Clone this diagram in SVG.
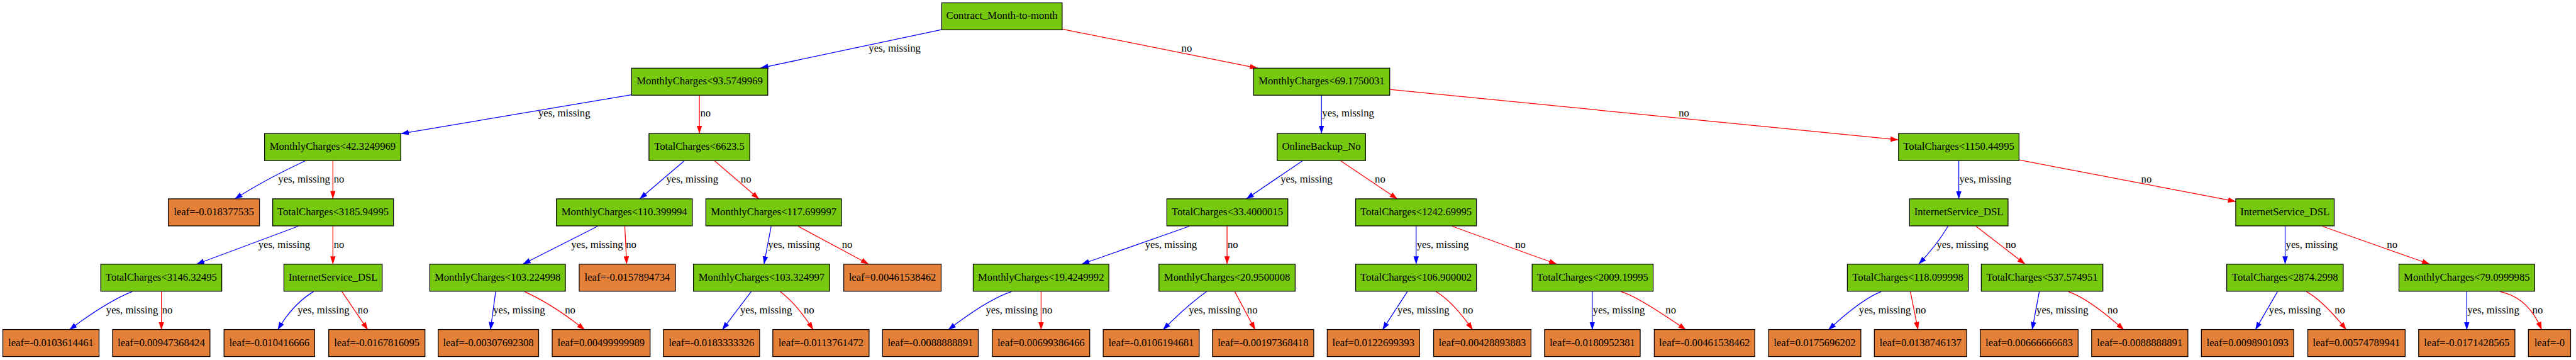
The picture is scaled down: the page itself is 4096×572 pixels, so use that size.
<svg xmlns="http://www.w3.org/2000/svg" width="4096" height="572" viewBox="0 0 4096 572">
<style>
.c{fill:#77C90F;stroke:#000;stroke-width:1.4}
.l{fill:#E48038;stroke:#000;stroke-width:1.4}
.t{font-family:"Liberation Serif","Times New Roman",serif;font-size:18.67px;fill:#000;text-anchor:middle}
.el{font-family:"Liberation Serif","Times New Roman",serif;font-size:18.67px;fill:#000}
.y{fill:none;stroke:#0000FF;stroke-width:1.4;marker-end:url(#ab)}
.n{fill:none;stroke:#FF0000;stroke-width:1.4;marker-end:url(#ar)}
</style>
<defs>
<marker id="ab" markerUnits="userSpaceOnUse" markerWidth="14" markerHeight="10" refX="14" refY="5" orient="auto"><path d="M0,0.2 L14,5 L0,9.8 z" fill="#0000FF"/></marker>
<marker id="ar" markerUnits="userSpaceOnUse" markerWidth="14" markerHeight="10" refX="14" refY="5" orient="auto"><path d="M0,0.2 L14,5 L0,9.8 z" fill="#FF0000"/></marker>
</defs>
<rect width="4096" height="572" fill="#fff"/>
<g transform="scale(0.895)">
<g id="edges">
<path class="y" d="M1672.7,52.7 L1351,120.7"/>
<path class="n" d="M1887.5,51.7 L2234.5,121"/>
<path class="y" d="M1121.6,168.3 L712.4,237.3"/>
<path class="n" d="M1242.6,169 L1242.6,237"/>
<path class="y" d="M2347.7,169 L2347.7,237"/>
<path class="n" d="M2469.2,158.7 L3372.6,248.3"/>
<path class="y" d="M541.9,285.7 Q468.5,320 417,353.3"/>
<path class="n" d="M591.4,285.7 L591.4,353"/>
<path class="y" d="M1215.4,285.7 L1136.2,353.3"/>
<path class="n" d="M1269.8,285.7 L1348.6,353.3"/>
<path class="y" d="M2313.7,285.7 L2214,353.3"/>
<path class="n" d="M2382.2,285.7 L2482.8,353.3"/>
<path class="y" d="M3480,285.7 L3480,353.3"/>
<path class="n" d="M3587.4,284 L3972.3,357.7"/>
<path class="y" d="M529.7,401.7 L349,469"/>
<path class="n" d="M591.4,401.7 L591.4,469"/>
<path class="y" d="M1061.8,401.7 L928.7,469"/>
<path class="n" d="M1110,401.7 L1113.4,469"/>
<path class="y" d="M1370,401.7 L1357.3,469"/>
<path class="n" d="M1418,401.7 L1543.4,469"/>
<path class="y" d="M2113,401.7 L1921.5,469"/>
<path class="n" d="M2180,401.7 L2180,469"/>
<path class="y" d="M2515.9,401.7 L2515.9,469"/>
<path class="n" d="M2580,401.7 L2766,469"/>
<path class="y" d="M3461,401.7 Q3438.8,438 3408.6,469"/>
<path class="n" d="M3510.6,401.7 L3598,469"/>
<path class="y" d="M4059.8,401.7 L4059.8,469"/>
<path class="n" d="M4125.9,401.7 L4316.9,469"/>
<path class="y" d="M234.7,517.7 Q190.6,534.9 123,585.7"/>
<path class="n" d="M286.7,517.7 L286.7,585.7"/>
<path class="y" d="M556.9,517.7 Q520,540 493.3,585.7"/>
<path class="n" d="M607.5,517.7 L653.6,585.7"/>
<path class="y" d="M880.6,517.7 L871.3,585.7"/>
<path class="n" d="M932,517.7 Q982.3,540.3 1039,585.7"/>
<path class="y" d="M1334.5,517.7 L1283,585.7"/>
<path class="n" d="M1386,517.7 Q1416.7,540.7 1444.8,585.7"/>
<path class="y" d="M1797.1,517.7 Q1754.3,531.7 1684.4,585.7"/>
<path class="n" d="M1849.6,517.7 L1849.6,585.7"/>
<path class="y" d="M2143.6,517.7 Q2109.7,541.7 2065.9,585.7"/>
<path class="n" d="M2193.7,517.7 L2230,585.7"/>
<path class="y" d="M2500.3,517.7 L2456,585.7"/>
<path class="n" d="M2551.3,517.7 Q2580.9,534.9 2616.5,585.7"/>
<path class="y" d="M2828.8,517.7 L2828.8,585.7"/>
<path class="n" d="M2879.9,517.7 Q2907.5,524.9 2995.5,585.7"/>
<path class="y" d="M3342,517.7 Q3306.3,531.7 3248.2,585.7"/>
<path class="n" d="M3394,517.7 L3407.6,585.7"/>
<path class="y" d="M3623,517.7 L3610.3,585.7"/>
<path class="n" d="M3674.9,517.7 Q3713,531.7 3773.6,585.7"/>
<path class="y" d="M4046.2,517.7 L4006.8,585.7"/>
<path class="n" d="M4097.7,517.7 Q4128.3,534.9 4168.6,585.7"/>
<path class="y" d="M4382.5,517.7 L4382.5,585.7"/>
<path class="n" d="M4441.8,517.7 Q4492.3,528.3 4515.6,585.7"/>
<text class="el" x="1543.4" y="92">yes, missing</text>
<text class="el" x="2099" y="92">no</text>
<text class="el" x="956.4" y="207">yes, missing</text>
<text class="el" x="1244" y="207">no</text>
<text class="el" x="2349" y="207">yes, missing</text>
<text class="el" x="2982.4" y="207">no</text>
<text class="el" x="494.2" y="324">yes, missing</text>
<text class="el" x="593" y="324">no</text>
<text class="el" x="1183.8" y="324">yes, missing</text>
<text class="el" x="1316" y="324">no</text>
<text class="el" x="2275" y="324">yes, missing</text>
<text class="el" x="2442.5" y="324">no</text>
<text class="el" x="3481" y="324">yes, missing</text>
<text class="el" x="3804" y="324">no</text>
<text class="el" x="458.8" y="440">yes, missing</text>
<text class="el" x="593" y="440">no</text>
<text class="el" x="1014.7" y="440">yes, missing</text>
<text class="el" x="1112" y="440">no</text>
<text class="el" x="1364.6" y="440">yes, missing</text>
<text class="el" x="1495.8" y="440">no</text>
<text class="el" x="2034.3" y="440">yes, missing</text>
<text class="el" x="2181" y="440">no</text>
<text class="el" x="2517" y="440">yes, missing</text>
<text class="el" x="2691.8" y="440">no</text>
<text class="el" x="3440.7" y="440">yes, missing</text>
<text class="el" x="3563" y="440">no</text>
<text class="el" x="4061" y="440">yes, missing</text>
<text class="el" x="4240.6" y="440">no</text>
<text class="el" x="188.6" y="556">yes, missing</text>
<text class="el" x="288" y="556">no</text>
<text class="el" x="528.7" y="556">yes, missing</text>
<text class="el" x="635.6" y="556">no</text>
<text class="el" x="876.2" y="556">yes, missing</text>
<text class="el" x="1003.5" y="556">no</text>
<text class="el" x="1315" y="556">yes, missing</text>
<text class="el" x="1427.8" y="556">no</text>
<text class="el" x="1751.4" y="556">yes, missing</text>
<text class="el" x="1851" y="556">no</text>
<text class="el" x="2112" y="556">yes, missing</text>
<text class="el" x="2215.5" y="556">no</text>
<text class="el" x="2482.8" y="556">yes, missing</text>
<text class="el" x="2598.5" y="556">no</text>
<text class="el" x="2830" y="556">yes, missing</text>
<text class="el" x="2959" y="556">no</text>
<text class="el" x="3302.6" y="556">yes, missing</text>
<text class="el" x="3403" y="556">no</text>
<text class="el" x="3618" y="556">yes, missing</text>
<text class="el" x="3744" y="556">no</text>
<text class="el" x="4031.1" y="556">yes, missing</text>
<text class="el" x="4147.7" y="556">no</text>
<text class="el" x="4383.5" y="556">yes, missing</text>
<text class="el" x="4499" y="556">no</text>
</g>
<g id="n0"><rect class="c" x="1673" y="5" width="214" height="48"/><text class="t" x="1780" y="34">Contract_Month-to-month</text></g>
<g id="n1"><rect class="c" x="1122" y="121" width="242" height="48"/><text class="t" x="1243" y="150">MonthlyCharges&lt;93.5749969</text></g>
<g id="n2"><rect class="c" x="2227" y="121" width="242" height="48"/><text class="t" x="2348" y="150">MonthlyCharges&lt;69.1750031</text></g>
<g id="n3"><rect class="c" x="470" y="237" width="242" height="48"/><text class="t" x="591" y="266">MonthlyCharges&lt;42.3249969</text></g>
<g id="n4"><rect class="c" x="1153" y="237" width="179" height="48"/><text class="t" x="1242.5" y="266">TotalCharges&lt;6623.5</text></g>
<g id="n5"><rect class="c" x="2269" y="237" width="157" height="48"/><text class="t" x="2347.5" y="266">OnlineBackup_No</text></g>
<g id="n6"><rect class="c" x="3373" y="237" width="214" height="48"/><text class="t" x="3480" y="266">TotalCharges&lt;1150.44995</text></g>
<g id="n7"><rect class="l" x="299" y="353" width="162" height="48"/><text class="t" x="380" y="382">leaf=-0.018377535</text></g>
<g id="n8"><rect class="c" x="484.5" y="353" width="214.5" height="48"/><text class="t" x="591.7" y="382">TotalCharges&lt;3185.94995</text></g>
<g id="n9"><rect class="c" x="988.5" y="353" width="241.5" height="48"/><text class="t" x="1109.2" y="382">MonthlyCharges&lt;110.399994</text></g>
<g id="n10"><rect class="c" x="1254" y="353" width="241" height="48"/><text class="t" x="1374.5" y="382">MonthlyCharges&lt;117.699997</text></g>
<g id="n11"><rect class="c" x="2073" y="353" width="215" height="48"/><text class="t" x="2180.5" y="382">TotalCharges&lt;33.4000015</text></g>
<g id="n12"><rect class="c" x="2408.5" y="353" width="214.5" height="48"/><text class="t" x="2515.8" y="382">TotalCharges&lt;1242.69995</text></g>
<g id="n13"><rect class="c" x="3392.5" y="353" width="175" height="48"/><text class="t" x="3480" y="382">InternetService_DSL</text></g>
<g id="n14"><rect class="c" x="3972" y="353" width="175" height="48"/><text class="t" x="4059.5" y="382">InternetService_DSL</text></g>
<g id="n15"><rect class="c" x="179" y="469" width="215" height="48"/><text class="t" x="286.5" y="498">TotalCharges&lt;3146.32495</text></g>
<g id="n16"><rect class="c" x="504.4" y="469" width="174.6" height="48"/><text class="t" x="591.7" y="498">InternetService_DSL</text></g>
<g id="n17"><rect class="c" x="763.5" y="469" width="241" height="48"/><text class="t" x="884" y="498">MonthlyCharges&lt;103.224998</text></g>
<g id="n18"><rect class="l" x="1029" y="469" width="171" height="48"/><text class="t" x="1114.5" y="498">leaf=-0.0157894734</text></g>
<g id="n19"><rect class="c" x="1232" y="469" width="242" height="48"/><text class="t" x="1353" y="498">MonthlyCharges&lt;103.324997</text></g>
<g id="n20"><rect class="l" x="1499" y="469" width="173" height="48"/><text class="t" x="1585.5" y="498">leaf=0.00461538462</text></g>
<g id="n21"><rect class="c" x="1729" y="469" width="241" height="48"/><text class="t" x="1849.5" y="498">MonthlyCharges&lt;19.4249992</text></g>
<g id="n22"><rect class="c" x="2059" y="469" width="242" height="48"/><text class="t" x="2180" y="498">MonthlyCharges&lt;20.9500008</text></g>
<g id="n23"><rect class="c" x="2408.5" y="469" width="214.5" height="48"/><text class="t" x="2515.8" y="498">TotalCharges&lt;106.900002</text></g>
<g id="n24"><rect class="c" x="2722" y="469" width="215" height="48"/><text class="t" x="2829.5" y="498">TotalCharges&lt;2009.19995</text></g>
<g id="n25"><rect class="c" x="3282" y="469" width="215" height="48"/><text class="t" x="3389.5" y="498">TotalCharges&lt;118.099998</text></g>
<g id="n26"><rect class="c" x="3520" y="469" width="216" height="48"/><text class="t" x="3628" y="498">TotalCharges&lt;537.574951</text></g>
<g id="n27"><rect class="c" x="3956" y="469" width="207" height="48"/><text class="t" x="4059.5" y="498">TotalCharges&lt;2874.2998</text></g>
<g id="n28"><rect class="c" x="4262" y="469" width="241" height="48"/><text class="t" x="4382.5" y="498">MonthlyCharges&lt;79.0999985</text></g>
<g id="n29"><rect class="l" x="5" y="585" width="171" height="48"/><text class="t" x="90.5" y="614">leaf=-0.0103614461</text></g>
<g id="n30"><rect class="l" x="200" y="585" width="173" height="48"/><text class="t" x="286.5" y="614">leaf=0.00947368424</text></g>
<g id="n31"><rect class="l" x="398" y="585" width="161" height="48"/><text class="t" x="478.5" y="614">leaf=-0.010416666</text></g>
<g id="n32"><rect class="l" x="584" y="585" width="171" height="48"/><text class="t" x="669.5" y="614">leaf=-0.0167816095</text></g>
<g id="n33"><rect class="l" x="778.5" y="585" width="178.5" height="48"/><text class="t" x="867.7" y="614">leaf=-0.00307692308</text></g>
<g id="n34"><rect class="l" x="981" y="585" width="174" height="48"/><text class="t" x="1068" y="614">leaf=0.00499999989</text></g>
<g id="n35"><rect class="l" x="1178.5" y="585" width="171" height="48"/><text class="t" x="1264" y="614">leaf=-0.0183333326</text></g>
<g id="n36"><rect class="l" x="1373" y="585" width="171" height="48"/><text class="t" x="1458.5" y="614">leaf=-0.0113761472</text></g>
<g id="n37"><rect class="l" x="1568" y="585" width="170" height="48"/><text class="t" x="1653" y="614">leaf=-0.0088888891</text></g>
<g id="n38"><rect class="l" x="1763" y="585" width="173" height="48"/><text class="t" x="1849.5" y="614">leaf=0.00699386466</text></g>
<g id="n39"><rect class="l" x="1960" y="585" width="170.5" height="48"/><text class="t" x="2045.2" y="614">leaf=-0.0106194681</text></g>
<g id="n40"><rect class="l" x="2154" y="585" width="180" height="48"/><text class="t" x="2244" y="614">leaf=-0.00197368418</text></g>
<g id="n41"><rect class="l" x="2358" y="585" width="164" height="48"/><text class="t" x="2440" y="614">leaf=0.0122699393</text></g>
<g id="n42"><rect class="l" x="2547" y="585" width="173" height="48"/><text class="t" x="2633.5" y="614">leaf=0.00428893883</text></g>
<g id="n43"><rect class="l" x="2744" y="585" width="170" height="48"/><text class="t" x="2829" y="614">leaf=-0.0180952381</text></g>
<g id="n44"><rect class="l" x="2939" y="585" width="178.5" height="48"/><text class="t" x="3028.2" y="614">leaf=-0.00461538462</text></g>
<g id="n45"><rect class="l" x="3142" y="585" width="164" height="48"/><text class="t" x="3224" y="614">leaf=0.0175696202</text></g>
<g id="n46"><rect class="l" x="3330" y="585" width="164" height="48"/><text class="t" x="3412" y="614">leaf=0.0138746137</text></g>
<g id="n47"><rect class="l" x="3518" y="585" width="174" height="48"/><text class="t" x="3605" y="614">leaf=0.00666666683</text></g>
<g id="n48"><rect class="l" x="3716" y="585" width="171" height="48"/><text class="t" x="3801.5" y="614">leaf=-0.0088888891</text></g>
<g id="n49"><rect class="l" x="3911" y="585" width="164" height="48"/><text class="t" x="3993" y="614">leaf=0.0098901093</text></g>
<g id="n50"><rect class="l" x="4100" y="585" width="173" height="48"/><text class="t" x="4186.5" y="614">leaf=0.00574789941</text></g>
<g id="n51"><rect class="l" x="4297" y="585" width="171" height="48"/><text class="t" x="4382.5" y="614">leaf=-0.0171428565</text></g>
<g id="n52"><rect class="l" x="4492" y="585" width="75" height="48"/><text class="t" x="4529.5" y="614">leaf=-0</text></g>
</g>
</svg>
